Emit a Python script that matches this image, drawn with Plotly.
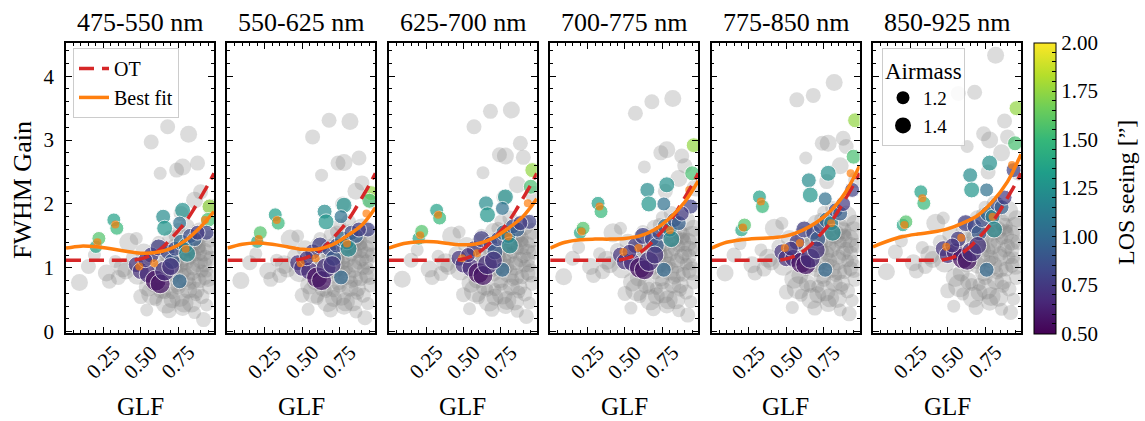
import plotly.graph_objects as go

# ---------------- data ----------------
panel_titles = ["475-550 nm", "550-625 nm", "625-700 nm", "700-775 nm", "775-850 nm", "850-925 nm"]
glf_ticks = [0.25, 0.50, 0.75]

# gray (all observations): low-GLF tail + main cloud + dense core + high outliers
gray_glf = ([0.09, 0.15, 0.19, 0.27, 0.29, 0.33, 0.38] +
            [0.42, 0.45, 0.48, 0.50, 0.52, 0.54, 0.55, 0.57, 0.58, 0.60, 0.61, 0.63, 0.64, 0.66, 0.67,
             0.69, 0.70, 0.71, 0.72, 0.73, 0.74, 0.75, 0.76, 0.77, 0.78, 0.79, 0.80, 0.81, 0.82, 0.83,
             0.84, 0.85, 0.86, 0.87, 0.88, 0.89, 0.90, 0.91, 0.92, 0.93, 0.94, 0.95, 0.96, 0.97,
             0.62, 0.68, 0.79, 0.83, 0.88, 0.74, 0.40, 0.47, 0.35, 0.93, 0.86] +
            [0.56, 0.59, 0.62, 0.65, 0.67, 0.70, 0.72, 0.74, 0.76, 0.78, 0.80, 0.82, 0.84, 0.86, 0.88,
             0.90, 0.92, 0.94, 0.96, 0.97, 0.71, 0.75, 0.79, 0.83, 0.87, 0.91, 0.95, 0.73, 0.81, 0.85,
             0.89, 0.93, 0.64, 0.69, 0.77] +
            [0.57, 0.63, 0.68, 0.74, 0.78, 0.82, 0.88, 0.90, 0.86, 0.77])
gray_airmass = ([1.4, 1.3, 1.2, 1.4, 1.3, 1.2, 1.5] +
                [1.5, 1.3, 1.6, 1.3, 1.4, 1.2, 1.5, 1.3, 1.7, 1.2, 1.4, 1.3, 1.5, 1.2, 1.6,
                 1.3, 1.4, 1.2, 1.5, 1.3, 1.4, 1.2, 1.6, 1.3, 1.4, 1.2, 1.5, 1.3, 1.4, 1.2,
                 1.5, 1.3, 1.4, 1.2, 1.5, 1.3, 1.6, 1.2, 1.3, 1.4, 1.2, 1.5, 1.3, 1.4,
                 1.3, 1.5, 1.3, 1.5, 1.3, 1.2, 1.4, 1.2, 1.3, 1.3, 1.2] +
                [1.3, 1.4, 1.2, 1.5, 1.3, 1.4, 1.2, 1.3, 1.5, 1.2, 1.4, 1.3, 1.5, 1.2, 1.4,
                 1.3, 1.5, 1.2, 1.4, 1.3, 1.4, 1.3, 1.5, 1.2, 1.4, 1.3, 1.5, 1.2, 1.3, 1.4,
                 1.2, 1.3, 1.4, 1.3, 1.5] +
                [1.3, 1.2, 1.3, 1.3, 1.4, 1.4, 1.3, 1.3, 1.4, 1.3])

gray_gain_475 = ([0.77, 1.02, 1.20, 0.92, 0.79, 1.10, 1.00] +
                 [1.40, 1.15, 0.90, 0.55, 1.25, 0.34, 0.70, 1.05, 0.60, 0.50, 1.30, 0.85, 1.10, 0.61, 0.45,
                  0.33, 1.45, 0.61, 0.95, 1.20, 0.75, 1.60, 0.55, 1.05, 0.38, 1.35, 0.85, 1.65, 0.65, 1.15,
                  0.45, 1.00, 1.40, 0.58, 1.25, 0.80, 1.55, 0.95, 0.19, 1.15, 0.42, 1.35, 0.70, 1.95,
                  0.95, 1.25, 0.95, 1.30, 1.05, 1.10, 0.95, 1.46, 0.85, 0.85, 0.30] +
                 [1.15, 0.75, 1.40, 1.00, 1.20, 0.85, 1.35, 1.05, 1.25, 0.90, 1.10, 1.30, 0.95, 1.20, 1.35,
                  1.10, 1.25, 0.95, 1.45, 1.15, 0.50, 0.70, 0.45, 0.75, 0.65, 0.55, 0.85, 1.50, 1.50, 0.80,
                  1.30, 1.05, 0.65, 0.90, 1.15] +
                 [2.97, 2.48, 3.21, 2.53, 2.58, 3.09, 2.64, 2.19, 2.06, 1.85])
gray_gain_550 = ([0.80, 1.08, 1.22, 0.95, 0.82, 1.12, 1.05] +
                 [1.45, 1.18, 0.94, 0.57, 1.30, 0.35, 0.73, 1.10, 0.62, 0.52, 1.35, 0.88, 1.15, 0.63, 0.47,
                  0.34, 1.51, 0.64, 0.99, 1.25, 0.78, 1.67, 0.57, 1.09, 0.40, 1.40, 0.88, 1.72, 0.68, 1.20,
                  0.47, 1.04, 1.46, 0.60, 1.30, 0.83, 1.61, 0.99, 0.22, 1.20, 0.44, 1.40, 0.73, 2.05,
                  0.99, 1.30, 0.99, 1.35, 1.09, 1.14, 0.98, 1.50, 0.88, 0.88, 0.31] +
                 [1.20, 0.78, 1.46, 1.04, 1.25, 0.88, 1.40, 1.09, 1.30, 0.94, 1.14, 1.35, 0.99, 1.25, 1.40,
                  1.14, 1.30, 0.99, 1.51, 1.20, 0.52, 0.73, 0.47, 0.78, 0.68, 0.57, 0.88, 1.56, 1.56, 0.83,
                  1.35, 1.09, 0.68, 0.94, 1.20] +
                 [3.05, 2.45, 3.31, 2.64, 2.65, 3.29, 2.72, 2.33, 2.20, 2.00])
gray_gain_625 = ([0.82, 1.12, 1.28, 0.98, 0.85, 1.18, 1.08] +
                 [1.50, 1.22, 0.97, 0.58, 1.35, 0.36, 0.76, 1.14, 0.64, 0.53, 1.40, 0.92, 1.19, 0.65, 0.48,
                  0.35, 1.57, 0.66, 1.03, 1.30, 0.81, 1.73, 0.59, 1.13, 0.41, 1.46, 0.92, 1.78, 0.70, 1.24,
                  0.48, 1.08, 1.51, 0.62, 1.35, 0.86, 1.67, 1.03, 0.24, 1.24, 0.45, 1.46, 0.76, 2.15,
                  1.03, 1.35, 1.03, 1.40, 1.13, 1.19, 1.02, 1.56, 0.91, 0.92, 0.32] +
                 [1.24, 0.81, 1.51, 1.08, 1.30, 0.92, 1.46, 1.13, 1.35, 0.97, 1.19, 1.40, 1.03, 1.30, 1.46,
                  1.19, 1.35, 1.03, 1.57, 1.24, 0.54, 0.76, 0.49, 0.81, 0.70, 0.59, 0.92, 1.62, 1.62, 0.86,
                  1.40, 1.13, 0.70, 0.97, 1.24] +
                 [3.21, 2.49, 3.45, 2.77, 2.75, 3.47, 2.95, 2.73, 2.30, 2.10])
gray_gain_700 = ([0.86, 1.15, 1.32, 1.02, 0.88, 1.22, 1.12] +
                 [1.55, 1.27, 1.00, 0.60, 1.40, 0.37, 0.78, 1.18, 0.66, 0.55, 1.46, 0.95, 1.23, 0.68, 0.50,
                  0.36, 1.62, 0.68, 1.06, 1.34, 0.84, 1.79, 0.61, 1.18, 0.42, 1.51, 0.95, 1.85, 0.73, 1.29,
                  0.50, 1.12, 1.57, 0.65, 1.40, 0.90, 1.74, 1.06, 0.26, 1.29, 0.47, 1.51, 0.78, 2.25,
                  1.06, 1.40, 1.06, 1.46, 1.18, 1.23, 1.05, 1.62, 0.94, 0.95, 0.33] +
                 [1.29, 0.84, 1.57, 1.12, 1.34, 0.95, 1.51, 1.18, 1.40, 1.01, 1.23, 1.46, 1.06, 1.34, 1.51,
                  1.23, 1.40, 1.06, 1.62, 1.29, 0.56, 0.78, 0.50, 0.84, 0.73, 0.62, 0.95, 1.68, 1.68, 0.90,
                  1.46, 1.18, 0.73, 1.01, 1.29] +
                 [3.42, 2.58, 3.60, 2.80, 2.85, 3.65, 2.75, 2.60, 2.40, 2.20])
gray_gain_775 = ([0.92, 1.20, 1.38, 1.05, 0.92, 1.28, 1.15] +
                 [1.62, 1.33, 1.04, 0.62, 1.46, 0.38, 0.82, 1.23, 0.69, 0.57, 1.52, 0.99, 1.29, 0.71, 0.52,
                  0.37, 1.70, 0.71, 1.11, 1.40, 0.88, 1.87, 0.64, 1.23, 0.44, 1.58, 0.99, 1.93, 0.76, 1.35,
                  0.52, 1.17, 1.64, 0.68, 1.46, 0.94, 1.81, 1.11, 0.28, 1.35, 0.49, 1.58, 0.82, 2.38,
                  1.11, 1.46, 1.11, 1.52, 1.23, 1.29, 1.09, 1.70, 0.98, 0.99, 0.34] +
                 [1.35, 0.88, 1.64, 1.17, 1.40, 0.99, 1.58, 1.23, 1.46, 1.05, 1.29, 1.52, 1.11, 1.40, 1.58,
                  1.29, 1.46, 1.11, 1.70, 1.35, 0.58, 0.82, 0.53, 0.88, 0.76, 0.64, 0.99, 1.76, 1.76, 0.94,
                  1.52, 1.23, 0.76, 1.05, 1.35] +
                 [3.63, 2.72, 3.70, 2.95, 2.95, 3.90, 3.03, 2.90, 2.60, 2.35])
gray_gain_850 = ([0.94, 1.25, 1.42, 1.08, 0.95, 1.32, 1.20] +
                 [1.70, 1.40, 1.09, 0.64, 1.52, 0.40, 0.85, 1.28, 0.72, 0.59, 1.59, 1.04, 1.34, 0.74, 0.54,
                  0.38, 1.77, 0.74, 1.16, 1.46, 0.92, 1.95, 0.67, 1.28, 0.46, 1.65, 1.04, 2.01, 0.79, 1.40,
                  0.54, 1.22, 1.71, 0.71, 1.52, 0.98, 1.89, 1.16, 0.30, 1.40, 0.51, 1.65, 0.85, 2.50,
                  1.16, 1.52, 1.16, 1.59, 1.28, 1.34, 1.13, 1.78, 1.02, 1.04, 0.35] +
                 [1.40, 0.92, 1.71, 1.22, 1.46, 1.04, 1.65, 1.28, 1.53, 1.10, 1.34, 1.59, 1.16, 1.46, 1.65,
                  1.34, 1.53, 1.16, 1.77, 1.40, 0.61, 0.85, 0.55, 0.92, 0.79, 0.67, 1.04, 1.83, 1.83, 0.98,
                  1.59, 1.28, 0.79, 1.10, 1.40] +
                 [3.73, 2.90, 3.75, 3.10, 3.00, 4.33, 3.30, 3.05, 2.80, 2.50])
gray_gain = [gray_gain_475, gray_gain_550, gray_gain_625, gray_gain_700, gray_gain_775, gray_gain_850]

# coloured subset (coloured by LOS seeing)
col_glf = [0.20, 0.22, 0.32, 0.34, 0.65, 0.66, 0.78, 0.76, 0.96, 0.95, 0.94, 0.76, 0.47, 0.50, 0.55, 0.60,
           0.63, 0.66, 0.57, 0.62, 0.68, 0.71, 0.73, 0.77, 0.80, 0.83, 0.86, 0.81, 0.53, 0.70, 0.88]
col_airmass = [1.22, 1.25, 1.25, 1.25, 1.30, 1.35, 1.35, 1.25, 1.30, 1.30, 1.30, 1.30, 1.35, 1.40, 1.45, 1.60,
               1.55, 1.55, 1.35, 1.40, 1.30, 1.35, 1.30, 1.35, 1.30, 1.30, 1.30, 1.40, 1.30, 1.45, 1.30]
col_seeing = [1.38, 1.58, 1.35, 1.50, 1.22, 1.28, 1.25, 1.05, 1.75, 1.55, 0.80, 1.00, 0.72, 0.70, 0.68, 0.55,
              0.58, 0.70, 0.75, 0.78, 0.82, 0.92, 0.85, 1.02, 1.15, 0.85, 0.95, 1.20, 0.72, 0.72, 0.75]
col_gain_475 = [1.33, 1.46, 1.75, 1.62, 1.80, 1.62, 1.90, 1.70, 1.96, 1.75, 1.55, 0.79, 1.05, 0.95, 0.90, 0.80,
                0.75, 0.95, 1.20, 1.32, 1.25, 1.10, 1.30, 1.40, 1.35, 1.50, 1.45, 1.22, 1.12, 1.02, 1.55]
col_gain_550 = [1.41, 1.55, 1.83, 1.70, 1.88, 1.72, 1.98, 1.80, 2.17, 2.05, 1.60, 0.85, 1.08, 1.00, 0.95, 0.85,
                0.80, 1.00, 1.25, 1.35, 1.30, 1.15, 1.35, 1.45, 1.40, 1.55, 1.50, 1.30, 1.15, 1.05, 1.60]
col_gain_625 = [1.46, 1.57, 1.90, 1.78, 2.01, 1.83, 2.11, 1.93, 2.53, 2.27, 1.72, 0.97, 1.15, 1.05, 1.00, 0.92,
                0.88, 1.05, 1.30, 1.45, 1.38, 1.25, 1.45, 1.55, 1.50, 1.65, 1.60, 1.35, 1.20, 1.12, 1.70]
col_gain_700 = [1.55, 1.62, 2.01, 1.88, 2.22, 2.00, 2.30, 2.00, 2.92, 2.48, 1.96, 0.97, 1.20, 1.10, 1.08, 1.00,
                0.97, 1.10, 1.35, 1.50, 1.45, 1.35, 1.55, 1.65, 1.60, 1.75, 1.70, 1.45, 1.25, 1.20, 1.85]
col_gain_775 = [1.59, 1.67, 2.11, 1.96, 2.37, 2.14, 2.48, 2.08, 3.31, 2.74, 2.22, 0.97, 1.25, 1.15, 1.15, 1.08,
                1.05, 1.15, 1.40, 1.60, 1.55, 1.45, 1.65, 1.75, 1.70, 1.90, 1.85, 1.55, 1.30, 1.28, 2.00]
col_gain_850 = [1.67, 1.72, 2.19, 2.01, 2.45, 2.22, 2.64, 2.22, 3.50, 2.95, 2.53, 0.97, 1.30, 1.20, 1.25, 1.15,
                1.12, 1.25, 1.45, 1.70, 1.65, 1.55, 1.75, 1.85, 1.80, 2.00, 1.95, 1.60, 1.35, 1.35, 2.10]
col_gain = [col_gain_475, col_gain_550, col_gain_625, col_gain_700, col_gain_775, col_gain_850]

# small orange points
orange_glf = [0.21, 0.33, 0.49, 0.59, 0.80, 0.93]
orange_gain = [[1.40, 1.68, 1.02, 1.07, 1.30, 1.75],
               [1.45, 1.75, 1.07, 1.15, 1.38, 1.85],
               [1.51, 1.83, 1.15, 1.23, 1.49, 2.01],
               [1.57, 1.96, 1.25, 1.31, 1.59, 2.22],
               [1.63, 2.04, 1.31, 1.39, 1.70, 2.48],
               [1.67, 2.09, 1.33, 1.47, 1.80, 2.61]]

# OT curve (same in every band)
ot_glf = [0.0, 0.1, 0.2, 0.3, 0.4, 0.45, 0.5, 0.55, 0.6, 0.65, 0.7, 0.75, 0.8, 0.85, 0.9, 0.95, 0.99]
ot_gain = [1.12, 1.12, 1.12, 1.12, 1.12, 1.12, 1.14, 1.18, 1.24, 1.33, 1.45, 1.58, 1.72, 1.90, 2.10, 2.30, 2.48]

# best fit curves
fit_glf = [0.0, 0.1, 0.2, 0.3, 0.4, 0.5, 0.6, 0.7, 0.8, 0.9, 0.99]
fit_gain = [[1.31, 1.34, 1.33, 1.30, 1.26, 1.23, 1.24, 1.30, 1.43, 1.64, 1.88],
            [1.31, 1.37, 1.39, 1.37, 1.33, 1.29, 1.29, 1.36, 1.50, 1.67, 1.94],
            [1.31, 1.38, 1.41, 1.41, 1.38, 1.36, 1.38, 1.47, 1.62, 1.81, 2.08],
            [1.31, 1.40, 1.44, 1.45, 1.45, 1.46, 1.50, 1.60, 1.78, 2.03, 2.36],
            [1.31, 1.40, 1.44, 1.46, 1.47, 1.50, 1.58, 1.71, 1.90, 2.20, 2.60],
            [1.33, 1.42, 1.49, 1.53, 1.56, 1.61, 1.70, 1.82, 2.04, 2.35, 2.78]]

airmass_legend = [1.2, 1.4]
seeing_ticks = [0.50, 0.75, 1.00, 1.25, 1.50, 1.75, 2.00]
seeing_minor = [0.55, 0.60, 0.65, 0.70, 0.80, 0.85, 0.90, 0.95, 1.05, 1.10, 1.15, 1.20,
                1.30, 1.35, 1.40, 1.45, 1.55, 1.60, 1.65, 1.70, 1.80, 1.85, 1.90, 1.95]

# ---------------- style ----------------
FONT = "Liberation Serif"
W_PLOT = 956.0
STEP = 161.4
PW = 148.0


def msize(am):
    return [13 + (a - 1.2) * 20 for a in am]


fig = go.Figure()
for i in range(6):
    xa = "x" if i == 0 else f"x{i+1}"
    ya = "y" if i == 0 else f"y{i+1}"
    fig.add_trace(go.Scatter(
        x=gray_glf, y=gray_gain[i], mode="markers", xaxis=xa, yaxis=ya,
        marker=dict(size=msize(gray_airmass), color="rgba(128,128,128,0.4)", line=dict(width=0)),
        showlegend=False, hoverinfo="skip"))
    fig.add_trace(go.Scatter(
        x=col_glf, y=col_gain[i], mode="markers", xaxis=xa, yaxis=ya,
        marker=dict(size=msize(col_airmass), color=col_seeing, coloraxis="coloraxis",
                    line=dict(width=1, color="white")),
        showlegend=False))
    fig.add_trace(go.Scatter(
        x=orange_glf, y=orange_gain[i], mode="markers", xaxis=xa, yaxis=ya,
        marker=dict(size=8, color="rgba(255,127,14,0.7)", line=dict(width=0)),
        showlegend=False))
    fig.add_trace(go.Scatter(
        x=ot_glf, y=ot_gain, mode="lines", xaxis=xa, yaxis=ya, name="OT",
        line=dict(color="#d62728", width=3.5, dash="15px,8px", shape="spline", smoothing=0.6),
        showlegend=(i == 0), legend="legend"))
    fig.add_trace(go.Scatter(
        x=fit_glf, y=fit_gain[i], mode="lines", xaxis=xa, yaxis=ya, name="Best fit",
        line=dict(color="#ff7f0e", width=3.5, shape="spline", smoothing=1.0),
        showlegend=(i == 0), legend="legend"))

# airmass size legend (panel 6)
for am in airmass_legend:
    fig.add_trace(go.Scatter(
        x=[None], y=[None], mode="markers", xaxis="x6", yaxis="y6", name=f"{am:.1f}",
        marker=dict(size=msize([am])[0], color="black"), legend="legend2", showlegend=True))

cb_vals = sorted(seeing_ticks + seeing_minor)
cb_text = [f"{v:.2f}" if v in seeing_ticks else "" for v in cb_vals]

layout = dict(
    width=1145, height=421,
    margin=dict(l=66, r=123, t=43, b=88, autoexpand=False),
    paper_bgcolor="white", plot_bgcolor="white",
    font=dict(family=FONT, color="black", size=21),
    coloraxis=dict(
        colorscale="Viridis", cmin=0.5, cmax=2.0,
        colorbar=dict(
            x=(1034 - 66) / W_PLOT, xanchor="left", y=0.5, yanchor="middle",
            len=291, lenmode="pixels", thickness=22, thicknessmode="pixels",
            outlinewidth=1, outlinecolor="black", xpad=0, ypad=0,
            ticks="inside", ticklen=4, tickcolor="black", tickwidth=1,
            tickmode="array", tickvals=cb_vals, ticktext=cb_text,
            tickfont=dict(size=21, family=FONT))),
    legend=dict(x=7 / W_PLOT, y=0.983, xanchor="left", yanchor="top",
                bordercolor="#cccccc", borderwidth=1, bgcolor="rgba(255,255,255,0.85)",
                font=dict(size=20, family=FONT), tracegroupgap=0, itemwidth=30),
    legend2=dict(x=(882 - 66) / W_PLOT, y=0.983, xanchor="left", yanchor="top",
                 bordercolor="#cccccc", borderwidth=1, bgcolor="rgba(255,255,255,0.85)",
                 font=dict(size=19, family=FONT),
                 title=dict(text="Airmass", font=dict(size=23, family=FONT), side="top")),
    showlegend=True,
)

annotations = []
for i in range(6):
    d0 = i * STEP / W_PLOT
    d1 = (i * STEP + PW) / W_PLOT
    xk = "xaxis" if i == 0 else f"xaxis{i+1}"
    yk = "yaxis" if i == 0 else f"yaxis{i+1}"
    xa = "x" if i == 0 else f"x{i+1}"
    ya = "y" if i == 0 else f"y{i+1}"
    layout[xk] = dict(
        domain=[d0, d1], range=[0.0, 0.99], anchor=ya, automargin=False,
        tickmode="array", tickvals=glf_ticks, showticklabels=False,
        ticks="inside", ticklen=6, tickwidth=1.2, tickcolor="black",
        minor=dict(dtick=0.05, tick0=0, ticks="inside", ticklen=3, tickwidth=1, tickcolor="black", showgrid=False),
        showline=True, mirror="allticks", linecolor="black", linewidth=1.5,
        showgrid=False, zeroline=False)
    layout[yk] = dict(
        domain=[0, 1], range=[-0.02, 4.52], anchor=xa, automargin=False,
        tickmode="linear", tick0=0, dtick=1,
        ticks="inside", ticklen=6, tickwidth=1.2, tickcolor="black",
        minor=dict(dtick=0.2, tick0=0, ticks="inside", ticklen=3, tickwidth=1, tickcolor="black", showgrid=False),
        showline=True, mirror="allticks", linecolor="black", linewidth=1.5,
        showgrid=False, zeroline=False, showticklabels=(i == 0),
        tickfont=dict(size=21, family=FONT), ticklabelstandoff=6)
    # rotated GLF tick labels, centred under each tick (matplotlib style)
    for v in glf_ticks:
        annotations.append(dict(text=f"{v:.2f}", x=v, xref=xa, y=-0.022, yref="paper",
                                textangle=-45, xanchor="center", yanchor="top", showarrow=False,
                                font=dict(size=21, family=FONT), borderpad=0))
    annotations.append(dict(text=panel_titles[i], x=(d0 + d1) / 2, y=1.072, xref="paper", yref="paper",
                            xanchor="center", yanchor="middle", showarrow=False,
                            font=dict(size=26, family=FONT)))
    annotations.append(dict(text="GLF", x=(d0 + d1) / 2, y=-0.252, xref="paper", yref="paper",
                            xanchor="center", yanchor="middle", showarrow=False,
                            font=dict(size=25, family=FONT)))

annotations.append(dict(text="FWHM Gain", x=(22 - 66) / W_PLOT, y=0.493, xref="paper", yref="paper",
                        textangle=-90, xanchor="center", yanchor="middle", showarrow=False,
                        font=dict(size=26, family=FONT)))
annotations.append(dict(text="LOS seeing [\u201d]", x=(1126 - 66) / W_PLOT, y=0.483, xref="paper", yref="paper",
                        textangle=-90, xanchor="center", yanchor="middle", showarrow=False,
                        font=dict(size=24, family=FONT)))
layout["annotations"] = annotations

fig.update_layout(**layout)
fig.write_html("out.html", config={"displayModeBar": False},
               post_script="document.body.style.margin='0';document.body.style.padding='0';"
                           "document.body.style.overflow='hidden';")
